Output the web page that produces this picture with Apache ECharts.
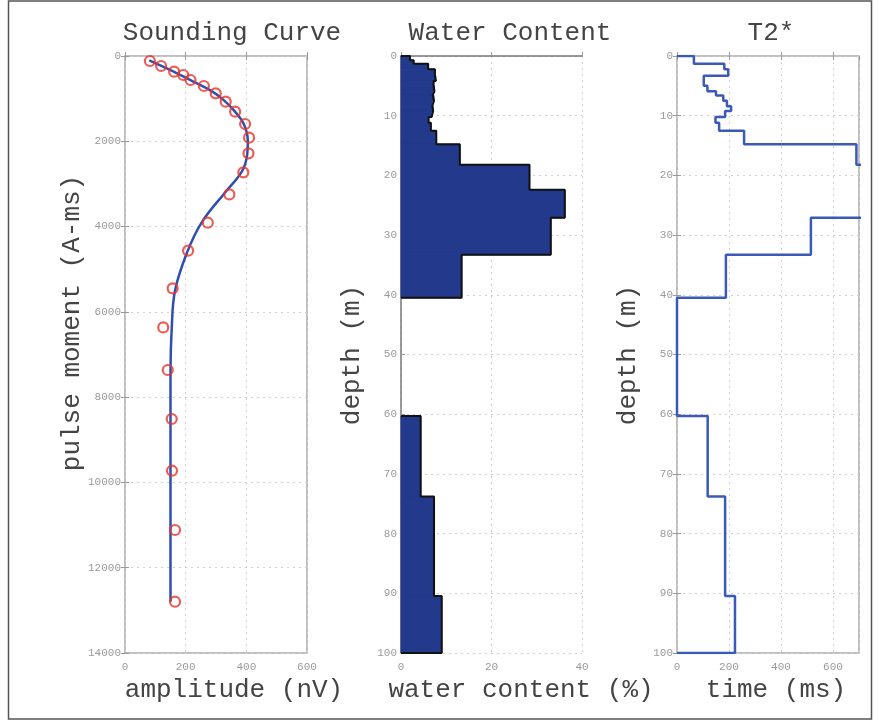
<!DOCTYPE html>
<html>
<head>
<meta charset="utf-8">
<script src="https://cdn.jsdelivr.net/npm/echarts@6/dist/echarts.min.js"></script>
<style>
  html, body { margin: 0; padding: 0; background: #fff; }
  #main { width: 879px; height: 726px; }
</style>
</head>
<body>
<div id="main"></div>
<script>
  // sounding curve: measured points (amplitude nV, pulse moment A-ms)
  var obsAmp = [82, 119, 162, 192, 216, 260, 299, 332, 363, 396, 409, 407, 390, 344, 273, 208, 157, 126, 141, 154, 155, 165, 165]
  var obsMoment = [117, 234, 367, 446, 563, 703, 875, 1071, 1305, 1595, 1915, 2283, 2728, 3245, 3909, 4565, 5449, 6364, 7364, 8513, 9725, 11116, 12797]
  // fitted curve
  var fitAmp = [80, 120, 170, 225, 280, 320, 362, 392, 405, 403, 386, 330, 253, 205, 165, 154, 150, 150, 150]
  var fitMoment = [100, 234, 400, 600, 800, 1000, 1300, 1600, 2000, 2300, 2700, 3200, 3900, 4600, 5500, 6400, 7400, 10000, 12800]

  // layered model: top of each layer (m), last bottom = 100
  var layerTop = [0, 0.7, 1.3, 2.2, 3.3, 4.2, 5.0, 5.9, 6.6, 7.5, 8.4, 9.2, 10.2, 11.2, 12.5, 14.8, 18.2, 22.4, 27.1, 33.3, 40.5, 60.3, 73.8, 90.45]
  var maxDepth = 100
  var waterContent = [2.0, 2.8, 6.0, 7.5, 7.7, 7.2, 7.4, 7.0, 7.3, 6.9, 7.1, 6.8, 6.1, 6.6, 7.8, 13.0, 28.4, 36.2, 33.1, 13.4, 0, 4.35, 7.3, 9.0]
  var t2star = [65, 65, 182, 197, 103, 103, 117, 150, 178, 192, 208, 185, 148, 162, 258, 690, 800, 800, 515, 188, 0, 118, 185, 223]

  var momentTicks = [0, 14000, 2000]
  var depthTicks = [0, 100, 10]

  var FONT = 'Liberation Mono'
  var axisGray = '#9a9a9a'
  var fillBlue = '#22398c'

  function bottom(i) {
    return i + 1 < layerTop.length ? layerTop[i + 1] : maxDepth
  }

  // rectangles for the water content fill
  var wcRects = []
  for (var i = 0; i < layerTop.length; i++) {
    if (waterContent[i] > 0) wcRects.push([layerTop[i], bottom(i), waterContent[i]])
  }

  // outline of each block of non-zero water content
  var wcOutlines = []
  var cur = null
  for (var i = 0; i < layerTop.length; i++) {
    if (waterContent[i] > 0) {
      if (!cur) cur = [[0, layerTop[i]]]
      cur.push([waterContent[i], layerTop[i]])
      cur.push([waterContent[i], bottom(i)])
    } else if (cur) {
      cur.push([0, layerTop[i]])
      wcOutlines.push(cur)
      cur = null
    }
  }
  if (cur) {
    cur.push([0, maxDepth])
    wcOutlines.push(cur)
  }

  // T2* step line
  var t2Line = [[0, 0]]
  for (var i = 0; i < layerTop.length; i++) {
    t2Line.push([t2star[i], layerTop[i]])
    t2Line.push([t2star[i], bottom(i)])
  }
  t2Line.push([0, maxDepth])

  var obsData = obsAmp.map(function (a, i) { return [a, obsMoment[i]] })
  var fitData = fitAmp.map(function (a, i) { return [a, fitMoment[i]] })

  function plain(v) { return String(v) }

  function xAx(grid, max, interval, showMax) {
    return {
      type: 'value', gridIndex: grid, min: 0, max: max, interval: interval,
      axisLine: { show: grid === 1, lineStyle: { color: '#777', width: 1.5 } },
      axisTick: { show: true, inside: true, length: 4, lineStyle: { color: axisGray } },
      axisLabel: { color: axisGray, fontFamily: FONT, fontSize: 11, margin: 9, showMaxLabel: showMax, formatter: plain },
      splitLine: { show: true, lineStyle: { type: [2, 4], color: '#cfcfcf' } }
    }
  }
  function yAx(grid, ticks) {
    return {
      type: 'value', gridIndex: grid, inverse: true, min: ticks[0], max: ticks[1], interval: ticks[2],
      axisLine: { show: grid === 1, lineStyle: { color: '#777', width: 1.5 } },
      axisTick: { show: true, inside: true, length: 4, lineStyle: { color: axisGray } },
      axisLabel: { color: axisGray, fontFamily: FONT, fontSize: 11, margin: 4, formatter: plain },
      splitLine: { show: true, lineStyle: { type: [2, 4], color: '#cfcfcf' } }
    }
  }
  // ticks on the opposite sides of the boxed panels
  function xTop(grid, max, interval) {
    return {
      type: 'value', gridIndex: grid, position: 'top', min: 0, max: max, interval: interval,
      axisLine: { show: false }, axisLabel: { show: false }, splitLine: { show: false },
      axisTick: { show: true, inside: true, length: 4, lineStyle: { color: axisGray } }
    }
  }
  function yRight(grid, ticks) {
    return {
      type: 'value', gridIndex: grid, position: 'right', inverse: true, min: ticks[0], max: ticks[1], interval: ticks[2],
      axisLine: { show: false }, axisLabel: { show: false }, splitLine: { show: false },
      axisTick: { show: true, inside: true, length: 4, lineStyle: { color: axisGray } }
    }
  }

  function label(text, x, y, rot) {
    return {
      type: 'text', x: x, y: y, rotation: rot || 0,
      style: { text: text, fill: '#444', font: '26px "' + FONT + '"', align: 'center', verticalAlign: 'middle' }
    }
  }

  var chart = echarts.init(document.getElementById('main'))
  chart.setOption({
    animation: false,
    backgroundColor: '#fff',
    grid: [
      { left: 125, top: 56, width: 182, height: 597, show: true, borderColor: '#aaa', borderWidth: 1.5 },
      { left: 401, top: 56, width: 181, height: 597 },
      { left: 677, top: 56, width: 182, height: 597, show: true, borderColor: '#aaa', borderWidth: 1.5 }
    ],
    xAxis: [
      xAx(0, 600, 200, true), xAx(1, 40, 20, true), xAx(2, 700, 200, false),
      xTop(0, 600, 200), xTop(2, 700, 200)
    ],
    yAxis: [
      yAx(0, momentTicks), yAx(1, depthTicks), yAx(2, depthTicks),
      yRight(0, momentTicks), yRight(2, depthTicks)
    ],
    graphic: [
      { type: 'rect', shape: { x: 8.5, y: 1, width: 863, height: 718 }, style: { fill: 'none', stroke: '#555', lineWidth: 1.5 } },
      label('Sounding Curve', 232, 33),
      label('Water Content', 510, 33),
      label('T2*', 771, 33),
      label('amplitude (nV)', 234, 690),
      label('water content (%)', 521, 690),
      label('time (ms)', 776, 690),
      label('pulse moment (A-ms)', 72, 323, Math.PI / 2),
      label('depth (m)', 352, 355, Math.PI / 2),
      label('depth (m)', 628, 355, Math.PI / 2)
    ],
    series: [
      {
        type: 'line', xAxisIndex: 0, yAxisIndex: 0, data: fitData, smooth: 0.4,
        showSymbol: false, lineStyle: { color: '#2f4fb0', width: 2.5 }, z: 3
      },
      {
        type: 'scatter', xAxisIndex: 0, yAxisIndex: 0, data: obsData, symbol: 'circle', symbolSize: 10,
        itemStyle: { color: 'rgba(0,0,0,0)', borderColor: '#e8332b', borderWidth: 2.2 }, z: 4
      },
      {
        type: 'custom', xAxisIndex: 1, yAxisIndex: 1, data: wcRects,
        encode: { x: 2, y: [0, 1] },
        renderItem: function (params, api) {
          var p0 = api.coord([0, api.value(0)])
          var p1 = api.coord([api.value(2), api.value(1)])
          return {
            type: 'rect',
            shape: { x: p0[0], y: p0[1], width: p1[0] - p0[0], height: p1[1] - p0[1] },
            style: { fill: fillBlue, stroke: fillBlue, lineWidth: 1 }
          }
        },
        z: 2
      }
    ].concat(wcOutlines.map(function (pts) {
      return {
        type: 'line', xAxisIndex: 1, yAxisIndex: 1, data: pts, showSymbol: false,
        lineStyle: { color: '#111', width: 2 }, z: 3
      }
    })).concat([
      {
        type: 'line', xAxisIndex: 2, yAxisIndex: 2, data: t2Line, showSymbol: false,
        lineStyle: { color: '#3b59b6', width: 2.5 }, z: 3
      }
    ])
  })
</script>
</body>
</html>
